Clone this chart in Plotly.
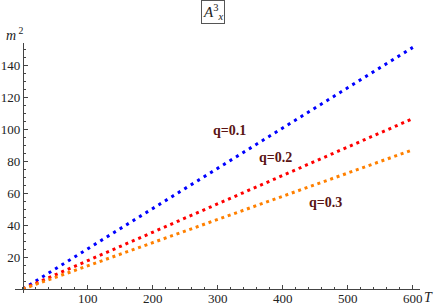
import plotly.graph_objects as go

T = [0, 600]
m2_q01 = [0, 151]
m2_q02 = [0, 106.5]
m2_q03 = [0, 87]
series_names = ["q=0.1", "q=0.2", "q=0.3"]
colors = ["#0000ff", "#ff0000", "#ff8000"]
dashes = ["3px,4.6px", "3px,4px", "3px,3.8px"]
label_T = [318, 388, 465]
label_m2 = [99, 82, 54]
x_ticks = [100, 200, 300, 400, 500, 600]
y_ticks = [20, 40, 60, 80, 100, 120, 140]

x_range = [-12, 611]
y_range = [-2.5, 153.75]
SERIF = "Liberation Serif, Times New Roman, serif"

fig = go.Figure()
for name, vals, c, d in zip(series_names, [m2_q01, m2_q02, m2_q03], colors, dashes):
    fig.add_trace(go.Scatter(x=T, y=vals, mode="lines", name=name,
                             line=dict(color=c, width=3, dash=d),
                             showlegend=False, hoverinfo="skip"))

for name, tx, ty in zip(series_names, label_T, label_m2):
    fig.add_annotation(x=tx, y=ty, text="<b>" + name + "</b>", showarrow=False,
                       font=dict(family=SERIF, size=14, color="#5a1414"))

axis_common = dict(showgrid=False, zeroline=False, showline=True, linecolor="#444",
                   linewidth=1, ticks="inside", ticklen=4, tickcolor="#444",
                   tickfont=dict(family=SERIF, size=13, color="#222"),
                   anchor="free", automargin=False)

fig.update_xaxes(range=x_range, tickvals=x_ticks, ticklabelstandoff=-3,
                 position=(0 - y_range[0]) / (y_range[1] - y_range[0]),
                 minor=dict(ticks="inside", ticklen=2, dtick=20, tick0=0, tickcolor="#444"),
                 **axis_common)
fig.update_yaxes(range=y_range, tickvals=y_ticks,
                 position=(0 - x_range[0]) / (x_range[1] - x_range[0]),
                 minor=dict(ticks="inside", ticklen=2, dtick=5, tick0=0, tickcolor="#444"),
                 **axis_common)

fig.add_annotation(xref="paper", yref="paper", x=0.0, y=1.0, xanchor="center", yanchor="bottom",
                   text="<i>m</i><sup> 2</sup>", showarrow=False, yshift=-2,
                   font=dict(family=SERIF, size=14, color="#222"))
fig.add_annotation(xref="paper", yref="paper", x=1.0198, y=(0 - y_range[0]) / (y_range[1] - y_range[0]),
                   xanchor="center", yanchor="middle", yshift=-8,
                   text="<i>T</i>", showarrow=False,
                   font=dict(family=SERIF, size=14, color="#222"))
fig.add_annotation(xref="paper", yref="paper", x=0.5, y=1.0, xanchor="center", yanchor="bottom",
                   yshift=19, xshift=-5, text="<i>A</i><sup>3</sup><sub><i>x</i></sub>", showarrow=False,
                   bordercolor="#555", borderwidth=1, borderpad=1, bgcolor="white",
                   font=dict(family=SERIF, size=15, color="#222"))

fig.update_layout(template="none", width=436, height=307,
                  margin=dict(l=15, r=16, t=43, b=14, autoexpand=False),
                  font=dict(family=SERIF),
                  plot_bgcolor="white", paper_bgcolor="white")

fig.write_html("out.html", config={"displayModeBar": False},
               post_script="document.body.style.margin='0';document.body.style.padding='0';")
